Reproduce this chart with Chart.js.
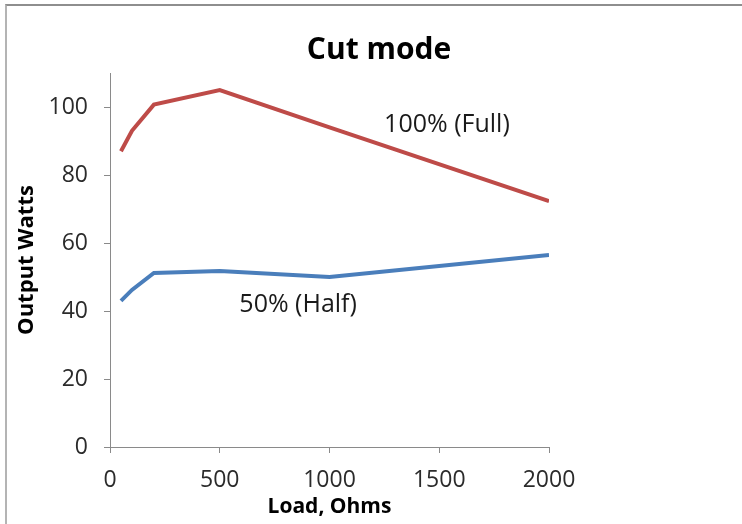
<!DOCTYPE html>
<html>
<head>
<meta charset="utf-8">
<title>Cut mode</title>
<script src="https://cdn.jsdelivr.net/npm/chart.js@4.4.1/dist/chart.umd.min.js"></script>
<style>
  html, body { margin: 0; padding: 0; background: #fff; }
  #wrap { position: relative; width: 742px; height: 524px; overflow: hidden; }
  #frame {
    position: absolute; left: 5px; top: 4px; width: 800px; height: 600px;
    border-top: 2px solid #8e8e8e; border-left: 2px solid #b4b4b4;
    pointer-events: none;
  }
</style>
</head>
<body>
<div id="wrap">
  <canvas id="cutChart" width="742" height="524"></canvas>
  <div id="frame"></div>
</div>
<script>
// === Data ===
const loads = [50, 100, 200, 500, 1000, 2000];
const fullPower = [87, 93, 100.7, 105, 94, 72.3];
const halfPower = [43, 46.2, 51.2, 51.8, 50, 56.5];
const xTicks = [0, 500, 1000, 1500, 2000];
const yTicks = [0, 20, 40, 60, 80, 100];

const FONT = "'Open Sans', 'Liberation Sans', sans-serif";
const RED = '#be4b48';
const BLUE = '#4a7ebb';
const AXIS = '#8a8a8a';

// series labels, anchored in data coordinates
const seriesLabels = [
  { text: '100% (Full)', x: 1535, y: 94.6 },
  { text: '50% (Half)', x: 857, y: 41.8 }
];

const toPoints = (xs, ys) => xs.map((x, i) => ({ x: x, y: ys[i] }));

// === Plugins: title + inline series labels ===
const textPlugin = {
  id: 'textPlugin',
  afterDraw(chart) {
    const ctx = chart.ctx;
    const xs = chart.scales.x;
    const ys = chart.scales.y;
    ctx.save();
    ctx.fillStyle = '#000';
    ctx.textAlign = 'center';
    ctx.textBaseline = 'middle';
    ctx.font = "bold 30px " + FONT;
    ctx.fillText('Cut mode', 379, 50);

    ctx.fillStyle = '#1a1a1a';
    ctx.font = "25px " + FONT;
    seriesLabels.forEach(l => {
      ctx.fillText(l.text, xs.getPixelForValue(l.x), ys.getPixelForValue(l.y));
    });
    ctx.restore();
  }
};

new Chart(document.getElementById('cutChart'), {
  type: 'line',
  data: {
    datasets: [
      {
        label: '100% (Full)',
        data: toPoints(loads, fullPower),
        borderColor: RED,
        borderWidth: 4,
        pointRadius: 0,
        tension: 0,
        fill: false
      },
      {
        label: '50% (Half)',
        data: toPoints(loads, halfPower),
        borderColor: BLUE,
        borderWidth: 4,
        pointRadius: 0,
        tension: 0,
        fill: false
      }
    ]
  },
  options: {
    responsive: false,
    animation: false,
    layout: { padding: { left: 10, right: 193, top: 73, bottom: 4 } },
    plugins: {
      legend: { display: false },
      title: { display: false },
      tooltip: { enabled: false }
    },
    scales: {
      x: {
        type: 'linear',
        min: 0,
        max: 2000,
        afterFit: s => { s.height = 73; },
        afterBuildTicks: s => { s.ticks = xTicks.map(v => ({ value: v })); },
        grid: { drawOnChartArea: false, tickLength: 6, color: AXIS },
        border: { color: AXIS },
        ticks: {
          padding: 14,
          color: '#2b2b2b',
          font: { family: FONT, size: 23 },
          maxRotation: 0,
          callback: v => String(v)
        },
        title: {
          display: true,
          text: 'Load, Ohms',
          color: '#000',
          font: { family: FONT, size: 21, weight: 'bold' },
          padding: { top: 0, bottom: 0 }
        }
      },
      y: {
        min: 0,
        max: 110,
        afterFit: s => { s.width = 100; },
        afterBuildTicks: s => { s.ticks = yTicks.map(v => ({ value: v })); },
        grid: { drawOnChartArea: false, tickLength: 6, color: AXIS },
        border: { color: AXIS },
        ticks: {
          padding: 16,
          color: '#2b2b2b',
          font: { family: FONT, size: 23 },
          callback: v => String(v)
        },
        title: {
          display: true,
          text: 'Output Watts',
          color: '#000',
          font: { family: FONT, size: 22, weight: 'bold' },
          padding: { top: 4, bottom: 0 }
        }
      }
    }
  },
  plugins: [textPlugin]
});
</script>
</body>
</html>
